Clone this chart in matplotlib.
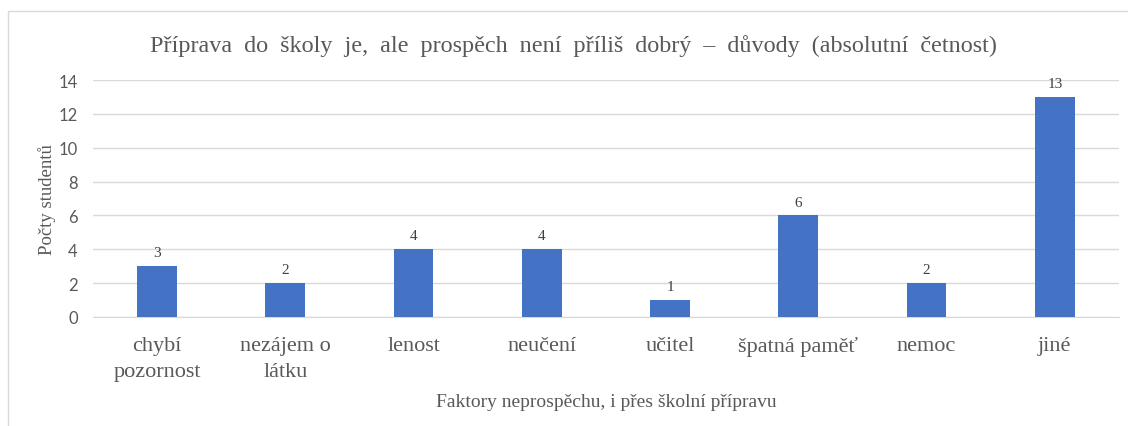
import numpy as np
import matplotlib.pyplot as plt
from matplotlib.patches import Rectangle

# Data
categories = ["chybí\npozornost", "nezájem o\nlátku", "lenost", "neučení",
              "učitel", "špatná paměť", "nemoc", "jiné"]
counts = [3, 2, 4, 4, 1, 6, 2, 13]
yticks = [0, 2, 4, 6, 8, 10, 12, 14]

serif = ["Liberation Serif", "DejaVu Serif"]
text_col = "#595959"

fig = plt.figure(figsize=(11.28, 4.27), dpi=100)
ax = fig.add_axes([0.0824, 0.2553, 0.9096, 0.5547])

# outer chart border (only left/top visible in reference)
fig.patches.append(Rectangle((8 / 1128, -0.1), 1.2, 1 - 12 / 427 + 0.1,
                             transform=fig.transFigure, fill=False,
                             edgecolor="#D9D9D9", linewidth=1))

x = np.arange(len(categories))
ax.bar(x, counts, width=0.31, color="#4472C4", zorder=3)
for xi, v in zip(x, counts):
    ax.annotate(str(v), (xi, v), xytext=(0, 5), textcoords="offset points",
                ha="center", va="bottom", family=serif, fontsize=11,
                color="#404040")

ax.set_xlim(-0.5, len(categories) - 0.5)
ax.set_ylim(0, 14)
ax.set_yticks(yticks)
ax.yaxis.grid(True, color="#D9D9D9", linewidth=1, zorder=0)
ax.set_axisbelow(True)
for s in ["top", "right", "left"]:
    ax.spines[s].set_visible(False)
ax.spines["bottom"].set_color("#D9D9D9")
ax.tick_params(axis="both", length=0)
ax.tick_params(axis="y", labelsize=12, labelcolor=text_col, pad=11)
ax.tick_params(axis="x", pad=14)

ax.set_xticks(x)
ax.set_xticklabels(categories, fontsize=16, color=text_col, linespacing=1.45)
for lbl in ax.get_xticklabels():
    lbl.set_family(serif)
for lbl in ax.get_yticklabels():
    lbl.set_family(["Lato", "DejaVu Sans"])

ax.set_xlabel("Faktory neprospěchu, i přes školní přípravu", family=serif,
              fontsize=14, color=text_col, labelpad=9)
ax.set_ylabel("Počty studentů", family=serif, fontsize=13.5, color=text_col,
              labelpad=2)

fig.text(573 / 1128, 1 - 46 / 427,
         "Příprava  do  školy  je,  ale  prospěch  není  příliš  dobrý  –  důvody  (absolutní  četnost)",
         ha="center", va="center", family=serif, fontsize=17.4, color=text_col)

fig.savefig("out.png", dpi=100)
